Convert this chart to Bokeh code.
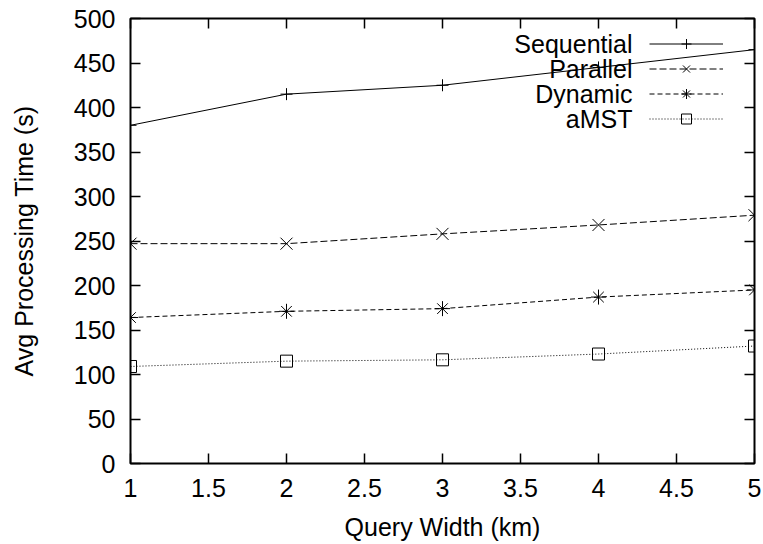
from bokeh.plotting import figure
from bokeh.models import (LinearAxis, FixedTicker, Range1d, Legend, LegendItem,
                          Label, NumeralTickFormatter, CustomJSTickFormatter)
from bokeh.embed import file_html
from bokeh.resources import INLINE

# ---- data ----
query_width = [1, 2, 3, 4, 5]
sequential = [380, 415, 425, 445, 465]
parallel = [247, 247, 258, 268, 279]
dynamic = [164, 171, 174, 187, 195]
amst = [109, 115, 116.5, 123, 132]
series_names = ["Sequential", "Parallel", "Dynamic", "aMST"]
x_ticks = [1, 1.5, 2, 2.5, 3, 3.5, 4, 4.5, 5]
y_ticks = [0, 50, 100, 150, 200, 250, 300, 350, 400, 450, 500]
x_label = "Query Width (km)"
y_label = "Avg Processing Time (s)"

FONT = "Liberation Sans"
FS = "25px"

W, H = 763, 544
LEFT, RIGHT, TOP, BOTTOM = 130, 9, 18, 81
FRAME_H = H - TOP - BOTTOM

p = figure(width=W, height=H, output_backend="svg", toolbar_location=None,
           x_range=Range1d(1, 5), y_range=Range1d(0, 500),
           min_border_left=LEFT, min_border_right=RIGHT, min_border_top=TOP,
           min_border_bottom=BOTTOM)
p.xgrid.visible = False
p.ygrid.visible = False
p.outline_line_color = "black"
p.outline_line_width = 2
p.background_fill_color = "white"
p.border_fill_color = "white"


def style_axis(ax, ticks, show_labels=True):
    ax.ticker = FixedTicker(ticks=ticks)
    ax.major_tick_in = 10
    ax.major_tick_out = 0
    ax.minor_tick_in = 0
    ax.minor_tick_out = 0
    ax.major_tick_line_color = "black"
    ax.major_tick_line_width = 1.5
    ax.axis_line_color = None
    if show_labels:
        ax.major_label_text_font = FONT
        ax.major_label_text_font_size = FS
        ax.major_label_text_color = "black"
        ax.axis_label_text_font = FONT
        ax.axis_label_text_font_size = FS
        ax.axis_label_text_font_style = "normal"
        ax.axis_label_text_color = "black"
    else:
        ax.formatter = CustomJSTickFormatter(code="return ''")
        ax.major_label_text_color = None
        ax.major_label_standoff = 0


style_axis(p.xaxis[0], x_ticks)
p.xaxis[0].formatter = NumeralTickFormatter(format="0.[0]")
p.xaxis[0].axis_label = x_label
p.xaxis[0].major_label_standoff = 15
p.xaxis[0].axis_label_standoff = 13

style_axis(p.yaxis[0], y_ticks)
p.yaxis[0].axis_label = y_label
p.yaxis[0].major_label_standoff = 15
p.yaxis[0].axis_label_standoff = 33

top_ax = LinearAxis()
style_axis(top_ax, x_ticks, show_labels=False)
p.add_layout(top_ax, "above")
right_ax = LinearAxis()
style_axis(right_ax, y_ticks, show_labels=False)
p.add_layout(right_ax, "right")

series = [sequential, parallel, dynamic, amst]
dashes = ["solid", "7 3", "5 3", "1 2"]
markers = ["cross", "x", "asterisk", "square"]
marker_sizes = [12, 17, 15, 12]

items = []
for name, vals, dash, mk, ms in zip(series_names, series, dashes, markers, marker_sizes):
    lr = p.line(query_width, vals, line_color="black", line_width=1, line_dash=dash)
    sr = p.scatter(query_width, vals, marker=mk, size=ms, line_color="black",
                   fill_color=None, line_width=1)
    items.append(LegendItem(label=" ", renderers=[lr, sr]))

legend = Legend(items=items, location="top_right", orientation="vertical",
                glyph_width=74, glyph_height=25, spacing=0, padding=0, margin=13,
                border_line_color=None, background_fill_alpha=0,
                label_standoff=0, label_width=18, label_height=0,
                label_text_font_size="1px", label_text_color=None)
p.add_layout(legend)

row_pitch = 25
first_center = FRAME_H - 25.5
for i, name in enumerate(series_names):
    p.add_layout(Label(x=502, y=first_center - i * row_pitch, x_units="screen",
                       y_units="screen", text=name, text_align="right",
                       text_baseline="middle", text_font=FONT,
                       text_font_size=FS, text_color="black"))

open("out.html", "w").write(file_html(p, INLINE))
